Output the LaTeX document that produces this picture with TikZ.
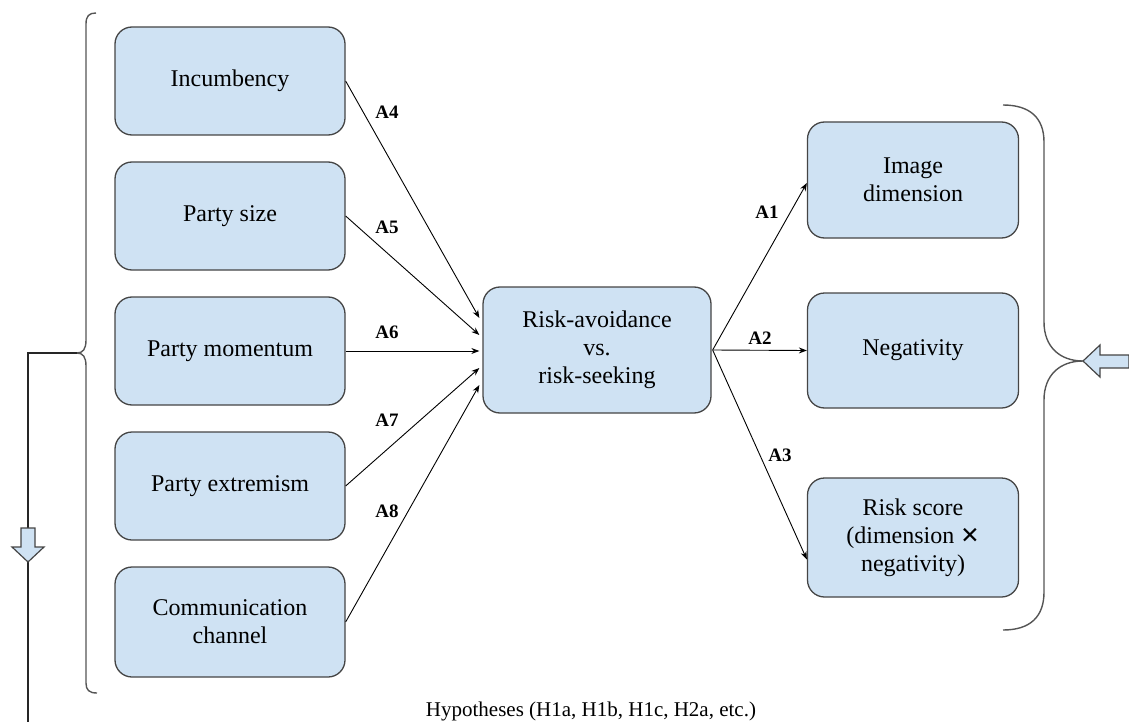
\documentclass[tikz,border=0pt]{standalone}
\usepackage{fontspec}
\setmainfont{Liberation Serif}
\newfontfamily\boxfont{Liberation Serif}
\newfontfamily\symbolfont{DejaVu Sans}
\usetikzlibrary{calc,arrows.meta}
\definecolor{boxfill}{HTML}{CFE2F3}
\definecolor{boxline}{HTML}{454545}
\definecolor{bracecol}{HTML}{555555}
\tikzset{
 box/.style={draw=boxline, fill=boxfill, line width=1.3pt, rounded corners=17pt, align=center, font=\boxfont\fontsize{24}{28}\selectfont, inner sep=0pt},
 lbox/.style={box, minimum width=230pt, minimum height=108pt},
 rbox/.style={box, minimum width=211pt, minimum height=116pt},
 conn/.style={line width=0.9pt, -{Stealth[length=8pt,width=6pt]}},
 lab/.style={font=\boxfont\fontsize{19}{22}\selectfont\bfseries},
 brace/.style={draw=bracecol, line width=1.4pt},
 blockarrow/.style={draw=boxline, fill=boxfill, line width=1.2pt, line join=miter},
}
\begin{document}
\begin{tikzpicture}[x=1pt,y=-1pt]
\useasboundingbox (0,0) rectangle (1129,722);
% left boxes
\node[lbox] (inc) at (230,81) {Incumbency};
\node[lbox] (size) at (230,216) {Party size};
\node[lbox] (mom) at (230,351) {Party momentum};
\node[lbox] (ext) at (230,486) {Party extremism};
\node[lbox, minimum height=110pt] (chan) at (230,622) {Communication\\channel};
% center
\node[box, minimum width=228pt, minimum height=126pt] (risk) at (597,350) {Risk-avoidance\\vs.\\risk-seeking};
% right boxes
\node[rbox] (img) at (913,180) {Image\\dimension};
\node[rbox, minimum height=115pt] (neg) at (913,350.5) {Negativity};
\node[rbox, minimum height=119pt] (score) at (913,537.5) {Risk score\\(dimension {\symbolfont\fontsize{23}{28}\selectfont ✕}\\negativity)};
% connectors left -> center
\draw[conn] (inc.east) -- ($(risk.west)+(-3,-32)$);
\draw[conn] (size.east) -- ($(risk.west)+(-3,-15)$);
\draw[conn] (mom.east) -- ($(risk.west)+(-3,1)$);
\draw[conn] (ext.east) -- ($(risk.west)+(-3,18)$);
\draw[conn] (chan.east) -- ($(risk.west)+(-3,35)$);
% connectors center -> right
\draw[conn] ($(risk.east)+(1,0)$) -- ($(img.west)+(0,3)$);
\draw[conn] ($(risk.east)+(1,0)$) -- (neg.west);
\draw[conn] ($(risk.east)+(1,0)$) -- ($(score.west)+(0,22)$);
% labels
\node[lab] at (387,112) {A4};
\node[lab] at (387,227) {A5};
\node[lab] at (387,332) {A6};
\node[lab] at (387,420) {A7};
\node[lab] at (387,511) {A8};
\node[lab] at (767,212) {A1};
\node[lab] at (760,338) {A2};
\node[lab] at (780,455) {A3};
% left brace
\coordinate (ltip) at (77,353);
\coordinate (lcorner) at (28,353);
\coordinate (lend) at (28,722);
\draw[brace] (96,13) .. controls (89,13) and (86,16) .. (86,24) -- (86,340)
  .. controls (86,349) and (83,353) .. (ltip)
  .. controls (83,353) and (86,357) .. (86,366) -- (86,683)
  .. controls (86,690) and (89,693) .. (97,693);
\draw[line width=1.3pt, black!85] (ltip) -- (lcorner) -- (lend);
\draw[blockarrow] (21,528) -- (35,528) -- (35,547) -- (44,547) -- (28,562) -- (12,547) -- (21,547) -- cycle;
% right brace
\coordinate (rtip) at (1083,361);
\draw[brace] (1003,105) .. controls (1030,105) and (1044,118) .. (1044,142) -- (1044,322)
  .. controls (1044,347) and (1060,361) .. (rtip)
  .. controls (1060,361) and (1044,375) .. (1044,400) -- (1044,592)
  .. controls (1044,617) and (1030,630) .. (1003,630);
\draw[blockarrow] (rtip) -- (1100,345) -- (1100,355) -- (1129,355) -- (1129,368) -- (1100,368) -- (1100,377) -- cycle;
% caption
\node[font=\boxfont\fontsize{21}{24}\selectfont] (cap) at (591,711) {Hypotheses (H1a, H1b, H1c, H2a, etc.)};
\end{tikzpicture}
\end{document}
